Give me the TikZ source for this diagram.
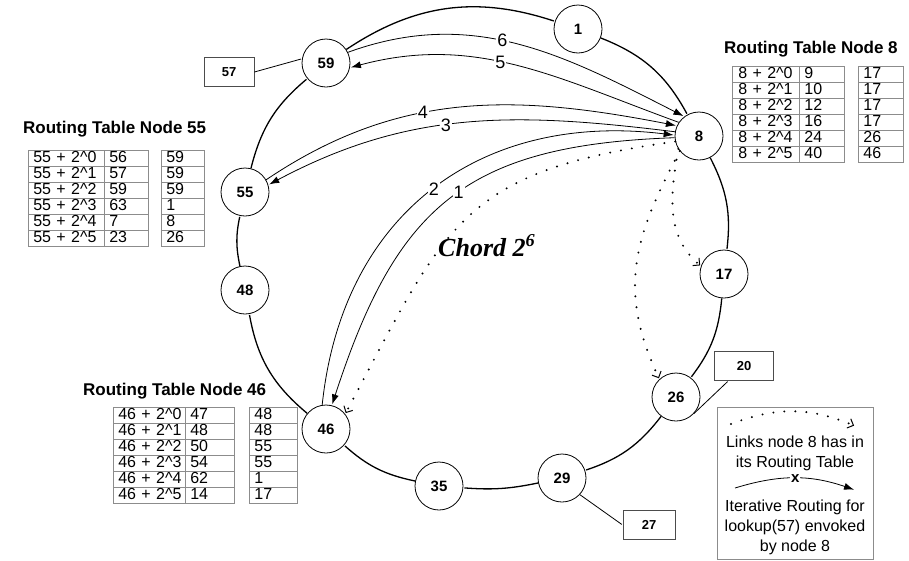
\documentclass[tikz,border=0pt]{standalone}
\usepackage{fontspec}
\setmainfont{Liberation Sans}
\newfontfamily\chordfont{Liberation Serif}
\usetikzlibrary{arrows.meta,automata,positioning}

\begin{document}
\begin{tikzpicture}[x=1pt,y=1pt,shorten >=1pt,
    every state/.style={draw,fill=white,line width=0.8pt,minimum size=48pt,inner sep=0pt,
      font=\fontsize{15}{18}\selectfont\bfseries},
    ring/.style={line width=1.3pt},
    hop/.style={line width=0.8pt,-{Latex[length=10pt,width=7pt]}},
    link/.style={line width=2.2pt,line cap=round,dash pattern=on 0pt off 11pt,
      -{Straight Barb[line width=1pt,length=5pt,width=10pt]}},
    num/.style={fill=white,inner sep=1pt,font=\fontsize{18}{20}\selectfont},
    box/.style={draw=black!70,line width=0.8pt,minimum height=29pt,inner sep=0pt,
      font=\fontsize{13}{15}\selectfont\bfseries},
    title/.style={anchor=base west,inner sep=0pt,font=\fontsize{17}{20}\selectfont\bfseries},
    cell/.style={draw=black!45,line width=0.7pt,anchor=north west,inner xsep=5pt,inner ysep=0pt,
      text height=12.3pt,text depth=3.7pt,align=left,font=\fontsize{16}{16}\selectfont},
    txt/.style={align=center,inner sep=0pt,font=\fontsize{16}{20}\selectfont}]
  \useasboundingbox (0,0) rectangle (909,-560);

  % ring nodes
  \node[state] (n_1)  at (578,-29)  {1};
  \node[state] (n_8)  at (699,-136) {8};
  \node[state] (n_17) at (724,-274) {17};
  \node[state] (n_26) at (676,-397) {26};
  \node[state] (n_29) at (562,-478) {29};
  \node[state] (n_35) at (439,-486) {35};
  \node[state] (n_46) at (326,-429) {46};
  \node[state] (n_48) at (245,-290) {48};
  \node[state] (n_55) at (245,-192) {55};
  \node[state] (n_59) at (326,-63)  {59};

  \path[ring]
    (n_1)  edge[bend left=20] (n_8)
    (n_8)  edge[bend left=17] (n_17)
    (n_17) edge[bend left=16] (n_26)
    (n_26) edge[bend left=17] (n_29)
    (n_29) edge[bend left=8]  (n_35)
    (n_35) edge[bend left=15] (n_46)
    (n_46) edge[bend left=20] (n_48)
    (n_48) edge[bend left=12] (n_55)
    (n_55) edge[bend left=18] (n_59)
    (n_59) edge[bend left=26] (n_1);

  % keys
  \node[box,minimum width=50pt] (b_57) at (229,-72)  {57};
  \node[box,minimum width=59pt] (b_20) at (744,-366) {20};
  \node[box,minimum width=52pt] (b_27) at (649,-525) {27};
  \draw[line width=0.8pt] (b_57.east) -- (n_59.170);
  \draw[line width=0.8pt] (n_26.-43) -- (b_20);
  \draw[line width=0.8pt] (n_29.-43) -- (b_27.west);

  % lookup(57)
  \path[hop]
    (n_59.26) edge[out=20,in=153] node[num,pos=0.45] {6} (n_8.127)
    (n_8.146) edge[out=160,in=15] node[num,pos=0.55] {5} (n_59.349)
    (n_55.30) edge[out=34,in=169] node[num,pos=0.4] {4} (n_8.155)
    (n_8.170) edge[out=173,in=28] node[num,pos=0.55] {3} (n_55.17)
    (n_46.99) edge[out=84,in=173,looseness=1.12] node[num,pos=0.5] {2} (n_8.178)
    (n_8.184) edge[out=182,in=72,looseness=1.23] node[num,pos=0.47] {1} (n_46.76);

  % fingers of node 8
  \path[link]
    (n_8.193) edge[out=188,in=62,looseness=1.3] (n_46.38)
    (n_8.212) edge[out=260,in=140] (n_17.161)
    (n_8.218) edge[out=242,in=115,looseness=1.1] (n_26.133);

  \node[anchor=base west,inner sep=0pt,font=\chordfont\bfseries\itshape\fontsize{26}{30}\selectfont]
    (chord) at (438,-256) {Chord 2\textsuperscript{6}};

  % routing tables
  \node[title] (h_8) at (724,-53) {Routing Table Node 8};
  \foreach \e/\a/\s [count=\r from 0] in {0/9/17,1/10/17,2/12/17,3/16/17,4/24/26,5/40/46}{
    \node[cell,text width=55pt,inner xsep=6pt] (k_8_\r) at (732,-66-16*\r) {\mbox{8 + 2\textasciicircum\e}};
    \node[cell,text width=35pt] (i_8_\r) at (799,-66-16*\r) {\a};
    \node[cell,text width=35pt] (s_8_\r) at (858,-66-16*\r) {\s};
  }

  \node[title] (h_55) at (23,-133) {Routing Table Node 55};
  \foreach \e/\a/\s [count=\r from 0] in {0/56/59,1/57/59,2/59/59,3/63/1,4/7/8,5/23/26}{
    \node[cell,text width=66pt] (k_55_\r) at (28,-150-16*\r) {\mbox{55 + 2\textasciicircum\e}};
    \node[cell,text width=34pt] (i_55_\r) at (104,-150-16*\r) {\a};
    \node[cell,text width=33pt] (s_55_\r) at (161,-150-16*\r) {\s};
  }

  \node[title] (h_46) at (83,-395) {Routing Table Node 46};
  \foreach \e/\a/\s [count=\r from 0] in {0/47/48,1/48/48,2/50/55,3/54/55,4/62/1,5/14/17}{
    \node[cell,text width=62pt] (k_46_\r) at (113,-407-16*\r) {\mbox{46 + 2\textasciicircum\e}};
    \node[cell,text width=39pt] (i_46_\r) at (185,-407-16*\r) {\a};
    \node[cell,text width=38pt] (s_46_\r) at (249,-407-16*\r) {\s};
  }

  % legend
  \node[draw=black!45,line width=0.8pt,minimum width=156pt,minimum height=152pt,
    inner sep=0pt,anchor=north west] (legend) at (717,-407) {};
  \coordinate (l_1) at (731,-424);
  \coordinate (l_2) at (855,-426);
  \draw[link] (l_1) to[bend left=22] (l_2);
  \node[txt] (t_links) at (795,-453) {Links node 8 has in\\its Routing Table};
  \coordinate (l_3) at (735,-488);
  \coordinate (l_4) at (855,-490);
  \draw[hop] (l_3) to[bend left=18] node[fill=white,inner sep=1pt,font=\fontsize{15}{15}\selectfont\bfseries] (x) {x} (l_4);
  \node[txt] (t_iter) at (795,-527) {Iterative Routing for\\lookup(57) envoked\\by node 8};
\end{tikzpicture}
\end{document}
